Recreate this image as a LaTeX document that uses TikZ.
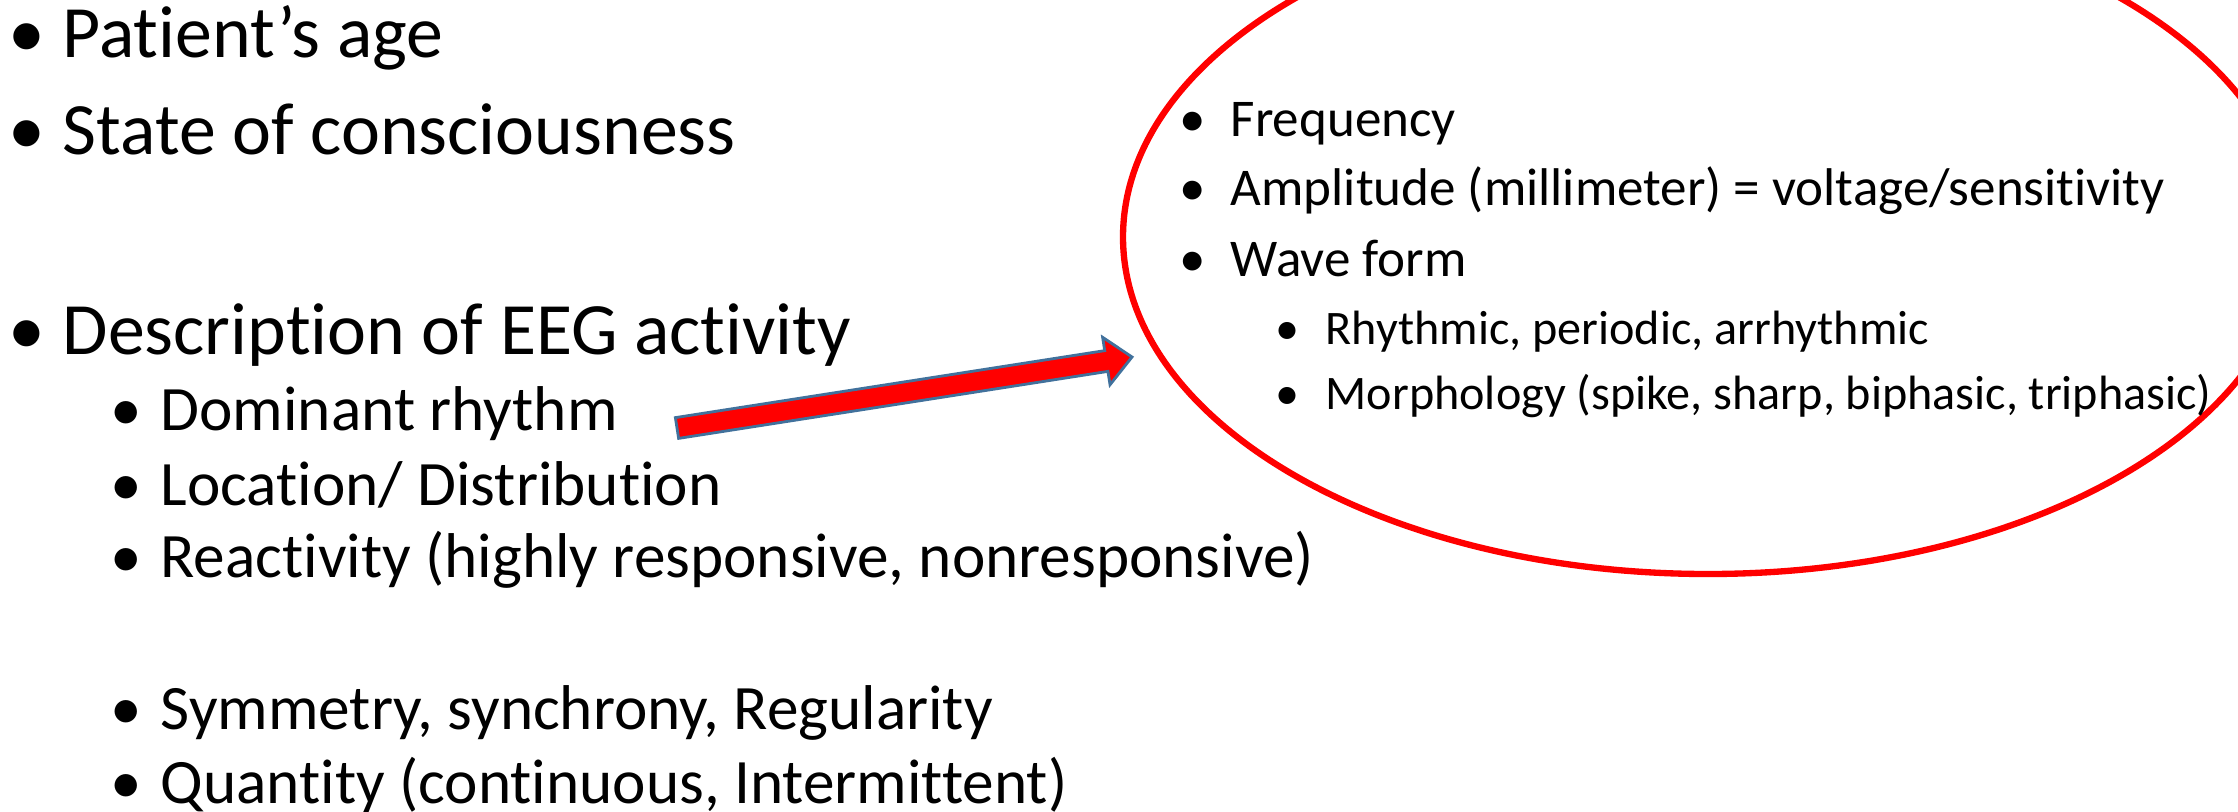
\documentclass[tikz,border=0pt]{standalone}
\usepackage{fontspec}
\setmainfont{Carlito}[Ligatures=NoCommon]
\usepackage{xcolor}
\usetikzlibrary{calc}
\definecolor{arrowBorder}{RGB}{65,113,156}
\newcommand\bul[1]{\llap{\makebox[0pt]{\textbullet}\hspace{#1}}}

\begin{document}
\begin{tikzpicture}[
  mainitem/.style={anchor=base west,inner sep=0pt,font=\fontsize{21pt}{25pt}\selectfont},
  subitem/.style={anchor=base west,inner sep=0pt,font=\fontsize{18pt}{22pt}\selectfont},
  ovalitem/.style={anchor=base west,inner sep=0pt,font=\fontsize{15.1pt}{18pt}\selectfont},
  ovalsub/.style={anchor=base west,inner sep=0pt,font=\fontsize{13.7pt}{16pt}\selectfont},
  redarrow/.style={fill=red,draw=arrowBorder,line width=0.8pt,line join=miter}]
\useasboundingbox (0,0) rectangle (22.38,-8.11);
\clip (0,0) rectangle (22.38,-8.11);
% left list
\node[mainitem] (age) at (0.62,-0.57) {\bul{0.36cm}Patient’s age};
\node[mainitem] (conscious) at (0.62,-1.54) {\bul{0.36cm}State of consciousness};
\node[mainitem] (eeg) at (0.62,-3.54) {\bul{0.36cm}Description of EEG activity};
\node[subitem] (dominant) at (1.60,-4.30) {\bul{0.34cm}Dominant rhythm};
\node[subitem] (location) at (1.60,-5.05) {\bul{0.34cm}Location/ Distribution};
\node[subitem] (reactivity) at (1.60,-5.77) {\bul{0.34cm}Reactivity (highly responsive, nonresponsive)};
\node[subitem] (symmetry) at (1.60,-7.29) {\bul{0.34cm}Symmetry, synchrony, Regularity};
\node[subitem] (quantity) at (1.60,-8.03) {\bul{0.34cm}Quantity (continuous, Intermittent)};
% circled details
\draw[red,line width=1.8pt] (17.08,-2.37) ellipse[x radius=5.85cm,y radius=3.37cm];
\node[ovalitem] (frequency) at (12.30,-1.36) {\bul{0.38cm}Frequency};
\node[ovalitem] (amplitude) at (12.30,-2.05) {\bul{0.38cm}Amplitude (millimeter) = voltage/sensitivity};
\node[ovalitem] (waveform) at (12.30,-2.76) {\bul{0.38cm}Wave form};
\node[ovalsub] (rhythmic) at (13.25,-3.44) {\bul{0.38cm}Rhythmic, periodic, arrhythmic};
\node[ovalsub] (morphology) at (13.25,-4.09) {\bul{0.38cm}Morphology (spike, sharp, biphasic, triphasic)};
% block arrow
\coordinate (arrtail) at (6.77,-4.28);
\coordinate (arrtip) at (11.32,-3.57);
\coordinate (hb) at ($(arrtip)!0.26cm!(arrtail)$);
\filldraw[redarrow] ($(arrtail)!0.105cm!90:(arrtip)$) -- ($(hb)!0.105cm!90:(arrtip)$)
  -- ($(hb)!0.24cm!90:(arrtip)$) -- (arrtip) -- ($(hb)!0.24cm!-90:(arrtip)$)
  -- ($(hb)!0.105cm!-90:(arrtip)$) -- ($(arrtail)!0.105cm!-90:(arrtip)$) -- cycle;
\end{tikzpicture}
\end{document}
